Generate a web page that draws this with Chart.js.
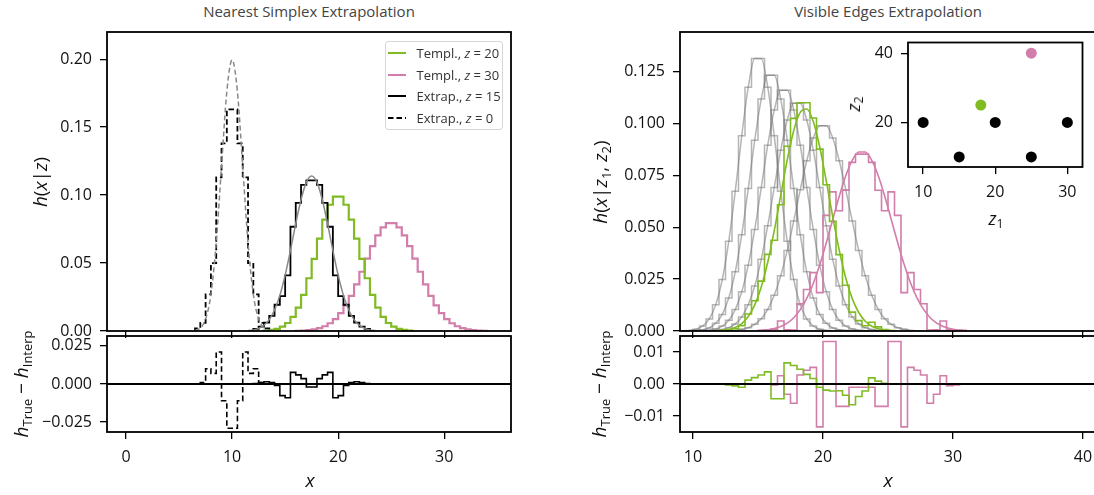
<!DOCTYPE html>
<html>
<head>
<meta charset="utf-8">
<script src="https://cdn.jsdelivr.net/npm/chart.js@4.4.1/dist/chart.umd.min.js"></script>
<style>
html, body { margin: 0; padding: 0; background: #fff; overflow: hidden; }
body { width: 1094px; height: 495px; position: relative; font-family: "Open Sans", sans-serif; color: #111; }
.box { position: absolute; }
.ttl { position: absolute; top: 1px; transform: translateX(-50%); font-size: 15px; color: #444; white-space: nowrap; }
.lbl { position: absolute; white-space: nowrap; transform: translate(-50%, -50%); font-size: 19px; }
.lbl.rot { transform: translate(-50%, -50%) rotate(-90deg); }
.lbl sub { font-size: 0.68em; vertical-align: -0.28em; line-height: 0; }
#legend { position: absolute; left: 385px; top: 41px; width: 116px; height: 87px; border: 1px solid #d6d6d6; border-radius: 3px; background: rgba(255,255,255,0.85); font-size: 13px; color: #333; }
#legend .row { height: 21.75px; display: flex; align-items: center; padding-left: 1.5px; white-space: nowrap; }
#legend svg { margin-right: 11px; }
</style>
</head>
<body>

<div class="ttl" style="left:309px">Nearest Simplex Extrapolation</div>
<div class="ttl" style="left:888px">Visible Edges Extrapolation</div>

<div class="box" id="boxLT"><canvas id="chartLT"></canvas></div>
<div class="box" id="boxLB"><canvas id="chartLB"></canvas></div>
<div class="box" id="boxRT"><canvas id="chartRT"></canvas></div>
<div class="box" id="boxRB"><canvas id="chartRB"></canvas></div>
<div class="box" id="boxIn"><canvas id="chartIn"></canvas></div>

<div class="lbl rot" style="left:40px;top:182px"><i>h</i>(<i>x</i>|<i>z</i>)</div>
<div class="lbl rot" style="left:21px;top:384px"><i>h</i><sub>True</sub> − <i>h</i><sub>Interp</sub></div>
<div class="lbl" style="left:310px;top:480px"><i>x</i></div>
<div class="lbl rot" style="left:600px;top:182px"><i>h</i>(<i>x</i>|<i>z</i><sub>1</sub>, <i>z</i><sub>2</sub>)</div>
<div class="lbl rot" style="left:599px;top:384px"><i>h</i><sub>True</sub> − <i>h</i><sub>Interp</sub></div>
<div class="lbl" style="left:888px;top:480px"><i>x</i></div>
<div class="lbl rot" style="left:853px;top:104px;font-size:18px"><i>z</i><sub>2</sub></div>
<div class="lbl" style="left:996px;top:218px;font-size:18px"><i>z</i><sub>1</sub></div>

<div id="legend">
  <div class="row"><svg width="18" height="4"><line x1="0" y1="2" x2="18" y2="2" stroke="#80bb24" stroke-width="2"/></svg><span>Templ., <i>z</i> = 20</span></div>
  <div class="row"><svg width="18" height="4"><line x1="0" y1="2" x2="18" y2="2" stroke="#d27daa" stroke-width="2"/></svg><span>Templ., <i>z</i> = 30</span></div>
  <div class="row"><svg width="18" height="4"><line x1="0" y1="2" x2="18" y2="2" stroke="#000" stroke-width="2"/></svg><span>Extrap., <i>z</i> = 15</span></div>
  <div class="row"><svg width="18" height="4"><line x1="0" y1="2" x2="18" y2="2" stroke="#000" stroke-width="2" stroke-dasharray="5.5,3"/></svg><span>Extrap., <i>z</i> = 0</span></div>
</div>

<script>
const binW = 0.5;

// Nearest simplex panel: bin heights (bins of width binW from the start edge)
const tmpl20Start = 13.0;
const tmpl20 = [0.0003,0.0008,0.0016,0.0032,0.0059,0.0104,0.0172,0.0266,0.0388,0.0530,0.0680,0.0820,0.0929,0.0989,
                0.0989,0.0929,0.0820,0.0680,0.0530,0.0388,0.0266,0.0172,0.0104,0.0059,0.0032,0.0016,0.0008,0.0003];
const tmpl30Start = 16.0;
const tmpl30 = [0.0002,0.0003,0.0007,0.0012,0.0021,0.0035,0.0057,0.0088,0.0131,0.0188,0.0259,0.0343,0.0436,0.0532,0.0625,0.0704,0.0763,0.0794,
                0.0794,0.0763,0.0704,0.0625,0.0532,0.0436,0.0343,0.0259,0.0188,0.0131,0.0088,0.0057,0.0035,0.0021,0.0012,0.0007,0.0003,0.0002];
const extrap15Start = 12.0;
const extrap15 = [0.0015,0.0032,0.0062,0.0112,0.0193,0.0256,0.0409,0.0767,0.0943,0.1075,0.1108,
                  0.1108,0.1075,0.0943,0.0767,0.0409,0.0256,0.0193,0.0112,0.0062,0.0032,0.0015];
const extrap0Start = 6.5;
const extrap0 = [0.002,0.006,0.027,0.050,0.113,0.138,0.163,0.163,0.138,0.113,0.050,0.027,0.006,0.002];

// true densities, sampled every binW
const true15Start = 11.5;
const true15 = [0.0003,0.0008,0.0019,0.0042,0.0084,0.0154,0.0262,0.0411,0.0593,0.0790,0.0968,0.1094,0.1140,
                0.1094,0.0968,0.0790,0.0593,0.0411,0.0262,0.0154,0.0084,0.0042,0.0019,0.0008,0.0003];
const true0Start = 6.5;
const true0 = [0.0004,0.0022,0.0088,0.0270,0.0648,0.1210,0.1761,0.1995,0.1761,0.1210,0.0648,0.0270,0.0088,0.0022,0.0004];

// residuals
const resid15Start = 12.0;
const resid15 = [0.0003,0.001,0.0015,0.001,-0.001,-0.0076,-0.009,0.0076,0.006,0.0035,-0.002,
                 -0.002,0.0035,0.006,0.0076,-0.009,-0.0076,-0.001,0.001,0.0015,0.001,0.0003];
const resid0Start = 7.0;
const resid0 = [0.001,0.010,0.007,0.021,-0.011,-0.029,-0.029,-0.011,0.021,0.007,0.010,0.001];

// Visible edges panel: five simplex templates (bin heights; smooth curve through bin centres)
const tmplStarts = [9.0, 9.5, 10.5, 11.0, 12.5];
const tmplA = [0.0001,0.0003,0.0009,0.0024,0.0058,0.0127,0.0248,0.0432,0.0673,0.0940,0.1174,0.1312,
               0.1312,0.1174,0.0940,0.0673,0.0432,0.0248,0.0127,0.0058,0.0024,0.0009,0.0003,0.0001];
const tmplB = [0.0001,0.0002,0.0006,0.0015,0.0037,0.0080,0.0159,0.0285,0.0464,0.0686,0.0919,0.1117,0.1232,
               0.1232,0.1117,0.0919,0.0686,0.0464,0.0285,0.0159,0.0080,0.0037,0.0015,0.0006,0.0002,0.0001];
const tmplC = [0.0001,0.0004,0.0010,0.0024,0.0052,0.0103,0.0189,0.0317,0.0489,0.0691,0.0895,0.1064,0.1160,
               0.1160,0.1064,0.0895,0.0691,0.0489,0.0317,0.0189,0.0103,0.0052,0.0024,0.0010,0.0004,0.0001];
const tmplD = [0.0001,0.0003,0.0007,0.0016,0.0034,0.0068,0.0127,0.0217,0.0345,0.0507,0.0691,0.0871,0.1016,0.1097,
               0.1097,0.1016,0.0871,0.0691,0.0507,0.0345,0.0217,0.0127,0.0068,0.0034,0.0016,0.0007,0.0003,0.0001];
const tmplE = [0.0001,0.0003,0.0008,0.0016,0.0032,0.0059,0.0104,0.0172,0.0266,0.0388,0.0530,0.0680,0.0820,0.0929,0.0989,
               0.0989,0.0929,0.0820,0.0680,0.0530,0.0388,0.0266,0.0172,0.0104,0.0059,0.0032,0.0016,0.0008,0.0003,0.0001];

const greenStart = 12.0;
const greenTrue = [0.0003,0.0008,0.0017,0.0036,0.0070,0.0126,0.0212,0.0331,0.0483,0.0654,0.0824,0.0966,0.1053,0.1069,
                   0.1009,0.0886,0.0723,0.0550,0.0389,0.0255,0.0156,0.0089,0.0047,0.0023,0.0011,0.0005,0.0002];
const greenHist = [0.0003,0.0005,0.0011,0.0026,0.0082,0.0146,0.0240,0.0369,0.0437,0.0608,0.0890,0.1024,0.1099,0.1099,
                   0.1026,0.0876,0.0704,0.0528,0.0368,0.0220,0.0091,0.0050,0.0025,0.0042,0.0020,0.0007,0.0002];
const greenResid = [0,-0.0003,-0.0006,-0.001,0.0012,0.002,0.0028,0.0038,-0.0046,-0.0046,0.0066,0.0058,0.0046,0.003,
                    0.0017,-0.001,-0.0019,-0.0022,-0.0021,-0.0035,-0.0065,-0.0039,-0.0022,0.0019,0.0009,0.0002,0];

const pinkStart = 15.0;
const pinkTrue = [0.0003,0.0006,0.0012,0.0022,0.0038,0.0064,0.0103,0.0157,0.0229,0.0319,0.0424,0.0537,0.0649,0.0748,0.0822,0.0862,
                  0.0862,0.0822,0.0748,0.0649,0.0537,0.0424,0.0319,0.0229,0.0157,0.0103,0.0064,0.0038,0.0022,0.0012,0.0006,0.0003];
const pinkHist = [0.0003,0.0006,0.0009,0.0048,0.0006,0.0004,0.0131,0.0200,0.0281,0.0185,0.0557,0.0670,0.0579,0.0678,0.0812,0.0852,
                  0.0852,0.0812,0.0678,0.0579,0.0670,0.0557,0.0185,0.0281,0.0200,0.0131,0.0004,0.0006,0.0048,0.0007,0.0003,0.0003];
const pinkResid = [0,0,-0.0003,0.0026,-0.0032,-0.006,0.0028,0.0043,0.0052,-0.0134,0.0133,0.0133,-0.007,-0.007,-0.001,-0.001,
                   -0.001,-0.001,-0.007,-0.007,0.0133,0.0133,-0.0134,0.0052,0.0043,0.0028,-0.006,-0.0032,0.0026,-0.0005,-0.0003,0];

// inset: template points and targets in (z1, z2)
const simplexZ1 = [10, 15, 20, 25, 30];
const simplexZ2 = [20, 10, 20, 10, 20];
const targetZ1 = [18, 25];
const targetZ2 = [25, 40];

const GREEN = '#80bb24';
const PINK = '#d27daa';
const GRAY = 'rgba(120,120,120,0.55)';
const PAD = 4;

Chart.defaults.font.family = "'Open Sans', sans-serif";

function histPoints(start, values) {
    const pts = [{ x: start, y: 0 }];
    values.forEach((v, i) => {
        pts.push({ x: start + i * binW, y: v });
        pts.push({ x: start + (i + 1) * binW, y: v });
    });
    pts.push({ x: start + values.length * binW, y: 0 });
    return pts;
}

function curvePoints(start, values) {
    return values.map((v, i) => ({ x: start + i * binW, y: v }));
}

function hist(start, values, color, width, dash) {
    return { data: histPoints(start, values), borderColor: color, borderWidth: width, borderDash: dash || [], pointRadius: 0, tension: 0 };
}

function curve(start, values, color, width, dash) {
    return { data: curvePoints(start, values), borderColor: color, borderWidth: width, borderDash: dash || [],
             pointRadius: 0, cubicInterpolationMode: 'monotone' };
}

function zeroLine(min, max) {
    return { data: [{ x: min, y: 0 }, { x: max, y: 0 }], borderColor: '#000', borderWidth: 1.8, pointRadius: 0 };
}

// full box round the plot area, optional white fill
const frame = {
    id: 'frame',
    beforeDatasetsDraw(chart, args, opts) {
        if (!opts.fill) return;
        const a = chart.chartArea;
        chart.ctx.save();
        chart.ctx.fillStyle = opts.fill;
        chart.ctx.fillRect(a.left, a.top, a.width, a.height);
        chart.ctx.restore();
    },
    afterDraw(chart) {
        const { ctx, chartArea: a } = chart;
        ctx.save();
        ctx.strokeStyle = '#000';
        ctx.lineWidth = 1.8;
        ctx.strokeRect(a.left, a.top, a.width, a.height);
        ctx.restore();
    }
};

function fmt(dec) {
    return (v) => v.toFixed(dec).replace('-', '\u2212');
}

function axis(min, max, tickVals, size, showLabels, dec, vertical) {
    return {
        type: 'linear',
        min: min,
        max: max,
        afterBuildTicks: (s) => { s.ticks = tickVals.map(v => ({ value: v })); },
        afterFit: (s) => {
            if (vertical) s.width = size; else s.height = size;
            s.paddingLeft = 0; s.paddingRight = 0; s.paddingTop = 0; s.paddingBottom = 0;
        },
        grid: { drawOnChartArea: false, drawTicks: true, tickLength: 7, color: '#000', lineWidth: 1.3 },
        border: { display: false },
        ticks: {
            display: showLabels,
            autoSkip: false,
            maxRotation: 0,
            padding: vertical ? 8 : 9,
            color: '#111',
            font: { size: 16 },
            callback: dec === null ? (v) => String(v) : fmt(dec)
        }
    };
}

function place(boxId, plot, yW, xH) {
    const el = document.getElementById(boxId);
    el.style.left = (plot.l - yW - PAD) + 'px';
    el.style.top = (plot.t - PAD) + 'px';
    el.style.width = (plot.r - plot.l + yW + 2 * PAD) + 'px';
    el.style.height = (plot.b - plot.t + xH + 2 * PAD) + 'px';
}

function makeChart(canvasId, xAxis, yAxis, datasets, fill) {
    return new Chart(document.getElementById(canvasId).getContext('2d'), {
        type: 'line',
        data: { datasets: datasets },
        options: {
            responsive: true,
            maintainAspectRatio: false,
            animation: false,
            events: [],
            layout: { padding: PAD },
            scales: { x: xAxis, y: yAxis },
            plugins: { legend: { display: false }, tooltip: { enabled: false }, frame: { fill: fill || null } }
        },
        plugins: [frame]
    });
}

document.addEventListener('DOMContentLoaded', () => {
    const leftX = [-1.8, 36.3, [0, 10, 20, 30]];
    const rightX = [9, 41, [10, 20, 30, 40]];

    place('boxLT', { l: 107, t: 32, r: 511, b: 331 }, 100, 8);
    place('boxLB', { l: 107, t: 336, r: 511, b: 432 }, 100, 44);
    place('boxRT', { l: 680, t: 32, r: 1096, b: 331 }, 100, 8);
    place('boxRB', { l: 680, t: 336, r: 1096, b: 432 }, 100, 44);
    place('boxIn', { l: 908, t: 41, r: 1084, b: 167 }, 40, 36);

    // Nearest simplex, histograms
    makeChart('chartLT',
        axis(leftX[0], leftX[1], leftX[2], 8, false, null, false),
        axis(0, 0.22, [0, 0.05, 0.10, 0.15, 0.20], 100, true, 2, true),
        [
            curve(true0Start, true0, '#888', 1.5, [5, 3]),
            curve(true15Start, true15, '#888', 1.5),
            hist(extrap0Start, extrap0, '#000', 1.8, [5.5, 3]),
            hist(extrap15Start, extrap15, '#000', 1.8),
            hist(tmpl20Start, tmpl20, GREEN, 2.2),
            hist(tmpl30Start, tmpl30, PINK, 2.2)
        ]);

    // Nearest simplex, residuals
    makeChart('chartLB',
        axis(leftX[0], leftX[1], leftX[2], 44, true, null, false),
        axis(-0.0315, 0.0315, [-0.025, 0, 0.025], 100, true, 3, true),
        [
            zeroLine(leftX[0], leftX[1]),
            hist(resid15Start, resid15, '#000', 1.6),
            hist(resid0Start, resid0, '#000', 1.6, [5.5, 3])
        ]);

    // Visible edges, histograms
    const grayTemplates = [tmplA, tmplB, tmplC, tmplD, tmplE];
    const grays = [];
    grayTemplates.forEach((vals, i) => grays.push(curve(tmplStarts[i] + binW / 2, vals, GRAY, 1.5)));
    grayTemplates.forEach((vals, i) => grays.push(hist(tmplStarts[i], vals, GRAY, 1.5)));
    makeChart('chartRT',
        axis(rightX[0], rightX[1], rightX[2], 8, false, null, false),
        axis(0, 0.144, [0, 0.025, 0.05, 0.075, 0.1, 0.125], 100, true, 3, true),
        [
            curve(greenStart + binW / 2, greenTrue, GREEN, 1.6),
            curve(pinkStart + binW / 2, pinkTrue, PINK, 1.6),
            hist(greenStart, greenHist, GREEN, 1.6),
            hist(pinkStart, pinkHist, PINK, 1.6)
        ].concat(grays));

    // Visible edges, residuals
    makeChart('chartRB',
        axis(rightX[0], rightX[1], rightX[2], 44, true, null, false),
        axis(-0.015, 0.015, [-0.01, 0, 0.01], 100, true, 2, true),
        [
            zeroLine(rightX[0], rightX[1]),
            hist(greenStart, greenResid, GREEN, 1.6),
            hist(pinkStart, pinkResid, PINK, 1.6)
        ]);

    // inset with the simplex points
    const dots = (xs, ys) => xs.map((x, i) => ({ x: x, y: ys[i] }));
    makeChart('chartIn',
        axis(7.9, 32.1, [10, 20, 30], 36, true, null, false),
        axis(7.1, 43.1, [20, 40], 40, true, null, true),
        [
            { data: [dots(targetZ1, targetZ2)[0]], showLine: false, pointRadius: 5.5, pointBackgroundColor: GREEN, pointBorderWidth: 0 },
            { data: [dots(targetZ1, targetZ2)[1]], showLine: false, pointRadius: 5.5, pointBackgroundColor: PINK, pointBorderWidth: 0 },
            { data: dots(simplexZ1, simplexZ2), showLine: false, pointRadius: 5.5, pointBackgroundColor: '#000', pointBorderWidth: 0 }
        ], '#fff');
});
</script>
</body>
</html>
